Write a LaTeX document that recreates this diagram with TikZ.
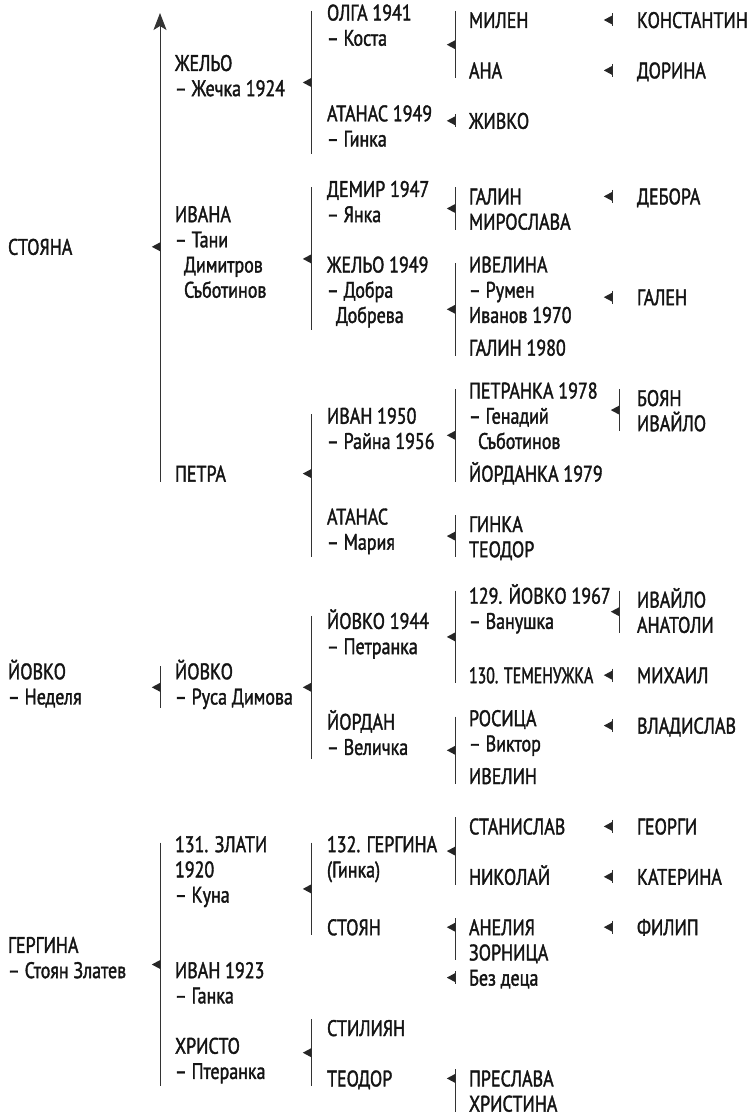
\documentclass[tikz,border=0pt]{standalone}
\usepackage{fontspec}
\setmainfont{PT Sans}[FakeStretch=0.8,FakeBold=1.6]
\usetikzlibrary{arrows.meta}
% y of a row centre
\newcommand\rc[1]{20+25.2*(#1)}
\newcommand\famlink[5]{% name, x, first row, last row, triangle y
  \coordinate (#1-t) at (#2,{\rc{#3}-9});
  \coordinate (#1-b) at (#2,{\rc{#4}+8});
  \coordinate (#1-m) at (#2,{#5});
  \draw[brk] (#1-t) -- (#1-b);
  \pic at (#1-m) {tri};}
\newcommand\famlinkmid[4]{\famlink{#1}{#2}{#3}{#4}{\rc{(#3+#4)/2}-0.5}}
\newcommand\onelink[3]{% name, x, row
  \coordinate (#1-t) at (#2,{\rc{#3}-6.5});
  \coordinate (#1-b) at (#2,{\rc{#3}+6.5});
  \coordinate (#1-m) at (#2,{\rc{#3}});
  \draw[brk] (#1-t) -- (#1-b);
  \pic at (#1-m) {tri};}
\newcommand\pers[4]{\node[pn] (#1) at (#2,{\rc{#3}-15.5}) {#4};}
\begin{document}
\begin{tikzpicture}[x=1pt,y=-1pt,
  pn/.style={anchor=north west, inner sep=0pt, outer sep=0pt, align=left,
    font=\fontsize{22.5}{25.2}\selectfont, text=black!92,
    execute at begin node={\rule{0pt}{23.5pt}}},
  brk/.style={draw=black!80, line width=0.9pt},
  tri/.pic={\fill[black!85] (0.4,-4.6) -- (-8.2,0) -- (0.4,4.6) -- cycle;}
]
\useasboundingbox (0,0) rectangle (749,1118);

% column 0
\pers{stoyana}{8}{9}{СТОЯНА}
\pers{yovkoA}{8}{26}{ЙОВКО\\– Неделя}
\pers{gerginaA}{8}{37}{ГЕРГИНА\\– Стоян Златев}

% column 1
\pers{zhelyo}{175}{2}{ЖЕЛЬО\\– Жечка 1924}
\pers{ivana}{175}{8}{ИВАНА\\– Тани\\\hspace*{9pt}Димитров\\\hspace*{9pt}Съботинов}
\pers{petra}{175}{18}{ПЕТРА}
\pers{yovkoB}{175}{26}{ЙОВКО\\– Руса Димова}
\pers{zlati}{175}{33}{131. ЗЛАТИ\\1920\\– Куна}
\pers{ivanB}{175}{38}{ИВАН 1923\\– Ганка}
\pers{hristo}{175}{41}{ХРИСТО\\– Птеранка}

% column 2
\pers{olga}{327}{0}{ОЛГА 1941\\– Коста}
\pers{atanasA}{327}{4}{АТАНАС 1949\\– Гинка}
\pers{demir}{327}{7}{ДЕМИР 1947\\– Янка}
\pers{zhelyoB}{327}{10}{ЖЕЛЬО 1949\\– Добра\\\hspace*{9pt}Добрева}
\pers{ivanC}{327}{16}{ИВАН 1950\\– Райна 1956}
\pers{atanasB}{327}{20}{АТАНАС\\– Мария}
\pers{yovkoC}{327}{24}{ЙОВКО 1944\\– Петранка}
\pers{yordan}{327}{28}{ЙОРДАН\\– Величка}
\pers{gerginaB}{327}{33}{132. ГЕРГИНА\\(Гинка)}
\pers{stoyan}{327}{36}{СТОЯН}
\pers{stiliyan}{327}{40}{СТИЛИЯН}
\pers{teodorA}{327}{42}{ТЕОДОР}

% column 3
\pers{milen}{469}{0}{МИЛЕН}
\pers{ana}{469}{2}{АНА}
\pers{zhivko}{469}{4}{ЖИВКО}
\pers{galinA}{469}{7}{ГАЛИН}
\pers{miroslava}{469}{8}{МИРОСЛАВА}
\pers{ivelina}{469}{10}{ИВЕЛИНА\\– Румен\\Иванов 1970}
\pers{galinB}{469}{13}{ГАЛИН 1980}
\pers{petranka}{469}{15}{ПЕТРАНКА 1978\\– Генадий\\\hspace*{9pt}Съботинов}
\pers{yordanka}{469}{18}{ЙОРДАНКА 1979}
\pers{ginka}{469}{20}{ГИНКА}
\pers{teodorB}{469}{21}{ТЕОДОР}
\pers{yovkoD}{469}{23}{129. ЙОВКО 1967\\– Ванушка}
\pers{temenuzhka}{469}{26}{\scalebox{0.88}[1]{130. ТЕМЕНУЖКА}}
\pers{rosica}{469}{28}{РОСИЦА\\– Виктор}
\pers{ivelin}{469}{30}{ИВЕЛИН}
\pers{stanislav}{469}{32}{СТАНИСЛАВ}
\pers{nikolay}{469}{34}{НИКОЛАЙ}
\pers{aneliya}{469}{36}{АНЕЛИЯ}
\pers{zornica}{469}{37}{ЗОРНИЦА}
\pers{bezdeca}{469}{38}{Без деца}
\pers{preslava}{469}{42}{ПРЕСЛАВА}
\pers{hristina}{469}{43}{ХРИСТИНА}

% column 4
\pers{konstantin}{637}{0}{КОНСТАНТИН}
\pers{dorina}{637}{2}{ДОРИНА}
\pers{debora}{637}{7}{ДЕБОРА}
\pers{galen}{637}{11}{ГАЛЕН}
\pers{boyan}{637}{15}{БОЯН}
\pers{ivaylo}{637}{16}{ИВАЙЛО}
\pers{ivayloB}{637}{23}{ИВАЙЛО}
\pers{anatoli}{637}{24}{АНАТОЛИ}
\pers{mihail}{637}{26}{МИХАИЛ}
\pers{vladislav}{637}{28}{ВЛАДИСЛАВ}
\pers{georgi}{637}{32}{ГЕОРГИ}
\pers{katerina}{637}{34}{КАТЕРИНА}
\pers{filip}{637}{36}{ФИЛИП}

% main arrow of СТОЯНА
\coordinate (stoyana-top) at (160,13);
\coordinate (stoyana-bot) at (160,{\rc{18}+8});
\coordinate (stoyana-m) at (160,{\rc{9}});
\draw[brk,-{Stealth[length=17pt,width=13pt,inset=4pt]}] (stoyana-bot) -- (stoyana-top);
\pic at (stoyana-m) {tri};

% column 1 brackets
\famlinkmid{yovkoA-l}{160}{26}{27}
\famlinkmid{gerginaA-l}{160}{33}{42}

% column 2 brackets
\famlinkmid{zhelyo-l}{311}{0}{5}
\famlinkmid{ivana-l}{311}{7}{12}
\famlink{petra-l}{311}{16}{21}{\rc{18}}
\famlinkmid{yovkoB-l}{311}{24}{29}
\famlinkmid{zlati-l}{311}{33}{36}
\famlinkmid{hristo-l}{311}{40}{42}

% column 3 brackets
\famlinkmid{olga-l}{455}{0}{2}
\onelink{atanasA-l}{455}{4}
\famlinkmid{demir-l}{455}{7}{8}
\famlinkmid{zhelyoB-l}{455}{10}{13}
\famlinkmid{ivanC-l}{455}{15}{18}
\famlinkmid{atanasB-l}{455}{20}{21}
\famlinkmid{yovkoC-l}{455}{23}{26}
\famlinkmid{yordan-l}{455}{28}{30}
\famlinkmid{gerginaB-l}{455}{32}{34}
\famlink{stoyan-l}{455}{36}{37}{\rc{36}}
\onelink{ivanB-l}{455}{38}
\famlink{teodorA-l}{455}{42}{43}{\rc{42}}

% column 4 links
\onelink{milen-l}{612}{0}
\onelink{ana-l}{612}{2}
\onelink{galinA-l}{612}{7}
\onelink{ivelina-l}{612}{11}
\famlinkmid{petranka-l}{619}{15}{16}
\famlinkmid{yovkoD-l}{619}{23}{24}
\onelink{temenuzhka-l}{612}{26}
\onelink{rosica-l}{612}{28}
\onelink{stanislav-l}{612}{32}
\onelink{nikolay-l}{612}{34}
\onelink{aneliya-l}{612}{36}
\end{tikzpicture}
\end{document}
